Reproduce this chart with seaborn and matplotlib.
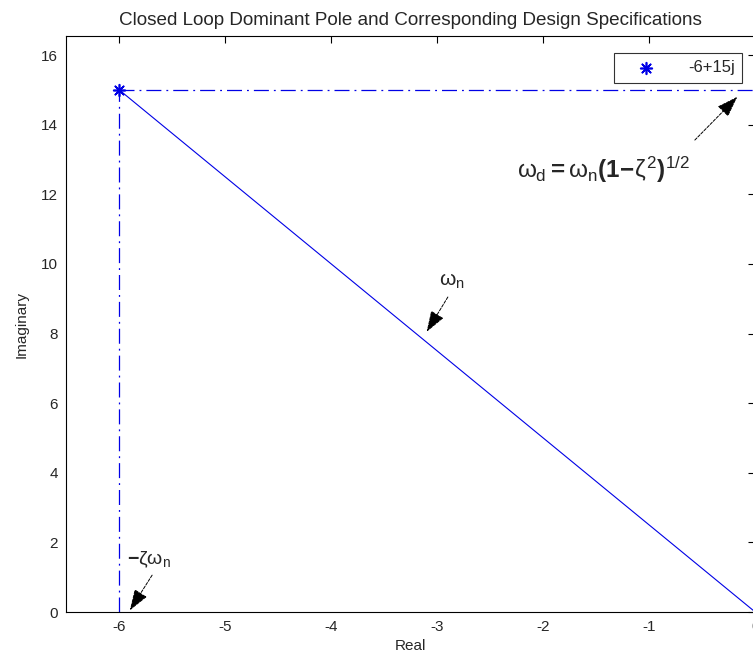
import matplotlib
matplotlib.use("Agg")
import matplotlib.pyplot as plt
import seaborn as sns
import pandas as pd

# Data
pole_real = [-6]
pole_imag = [15]
pole_label = "-6+15j"
wn_real = [-6, 0]
wn_imag = [15, 0]
sigma_real = [-6, -6]
sigma_imag = [0, 15]
wd_real = [-6, 0]
wd_imag = [15, 15]
xticks = [-6, -5, -4, -3, -2, -1, 0]
yticks = [0, 2, 4, 6, 8, 10, 12, 14, 16]

sns.set_theme(style="white")
plt.rcParams['font.family'] = ['Liberation Sans', 'DejaVu Sans']
plt.rcParams['mathtext.fontset'] = 'custom'
plt.rcParams['mathtext.rm'] = 'Liberation Sans'
plt.rcParams['mathtext.it'] = 'Liberation Sans'
plt.rcParams['mathtext.bf'] = 'Liberation Sans:bold'

fig = plt.figure(figsize=(7.53, 6.66), dpi=100)
ax = fig.add_axes([0.088, 0.081, 0.915, 0.865])

blue = '#0000e6'
dashdot = (0, (12, 4, 1.5, 4))
sns.lineplot(x=sigma_real, y=sigma_imag, ax=ax, color=blue, linestyle=dashdot, linewidth=0.9,
             sort=False, estimator=None)
sns.lineplot(x=wd_real, y=wd_imag, ax=ax, color=blue, linestyle=dashdot, linewidth=0.9,
             sort=False, estimator=None)
sns.lineplot(x=wn_real, y=wn_imag, ax=ax, color=blue, linewidth=0.8, sort=False, estimator=None)
df = pd.DataFrame({'re': pole_real, 'im': pole_imag})
sns.scatterplot(data=df, x='re', y='im', ax=ax, marker=(8, 2, 0), color=blue, s=70,
                edgecolor=blue, linewidth=1.2, label=pole_label, zorder=5)

ax.set_xlim(-6.5, 0)
ax.set_ylim(0, 16.55)
ax.set_xticks(xticks)
ax.set_xticklabels([str(t) for t in xticks])
ax.set_yticks(yticks)
ax.tick_params(direction='in', length=5, width=0.8, top=True, right=True,
               labelsize=11, color='black', pad=6)
for s in ax.spines.values():
    s.set_color('black')
    s.set_linewidth(0.8)
ax.set_xlabel('Real', fontsize=11, labelpad=3)
ax.set_ylabel('Imaginary', fontsize=11, labelpad=9)
ax.set_title('Closed Loop Dominant Pole and Corresponding Design Specifications', fontsize=13.6, pad=8)

leg = ax.legend(loc='upper right', bbox_to_anchor=(0.993, 0.985), frameon=True, fancybox=False,
                fontsize=12, handletextpad=1.0, handlelength=3.0, borderpad=0.45, markerscale=1.0)
leg.get_frame().set_edgecolor('black')
leg.get_frame().set_linewidth(0.8)

arrow = dict(arrowstyle='-|>,head_length=1.1,head_width=0.38', color='black', linewidth=0.7,
             linestyle=(0, (3, 1.5)), shrinkA=0, shrinkB=0)
ax.text(-5.93, 1.5, r'$\mathbf{-}\zeta\omega_n$', fontsize=14, ha='left', va='center')
ax.annotate('', xy=(-5.9, 0.05), xytext=(-5.69, 1.06), arrowprops=arrow)
ax.text(-2.98, 9.5, r'$\omega_n$', fontsize=15, ha='left', va='center')
ax.annotate('', xy=(-3.1, 8.05), xytext=(-2.9, 9.05), arrowprops=arrow)
ax.text(-2.25, 12.7, r'$\omega_d\mathbf{=}\omega_n\mathbf{(1\!-\!}\zeta^2\mathbf{)}^{1/2}$',
        fontsize=17.5, ha='left', va='center')
ax.annotate('', xy=(-0.17, 14.8), xytext=(-0.57, 13.56), arrowprops=arrow)

fig.savefig('out.png', dpi=100)
